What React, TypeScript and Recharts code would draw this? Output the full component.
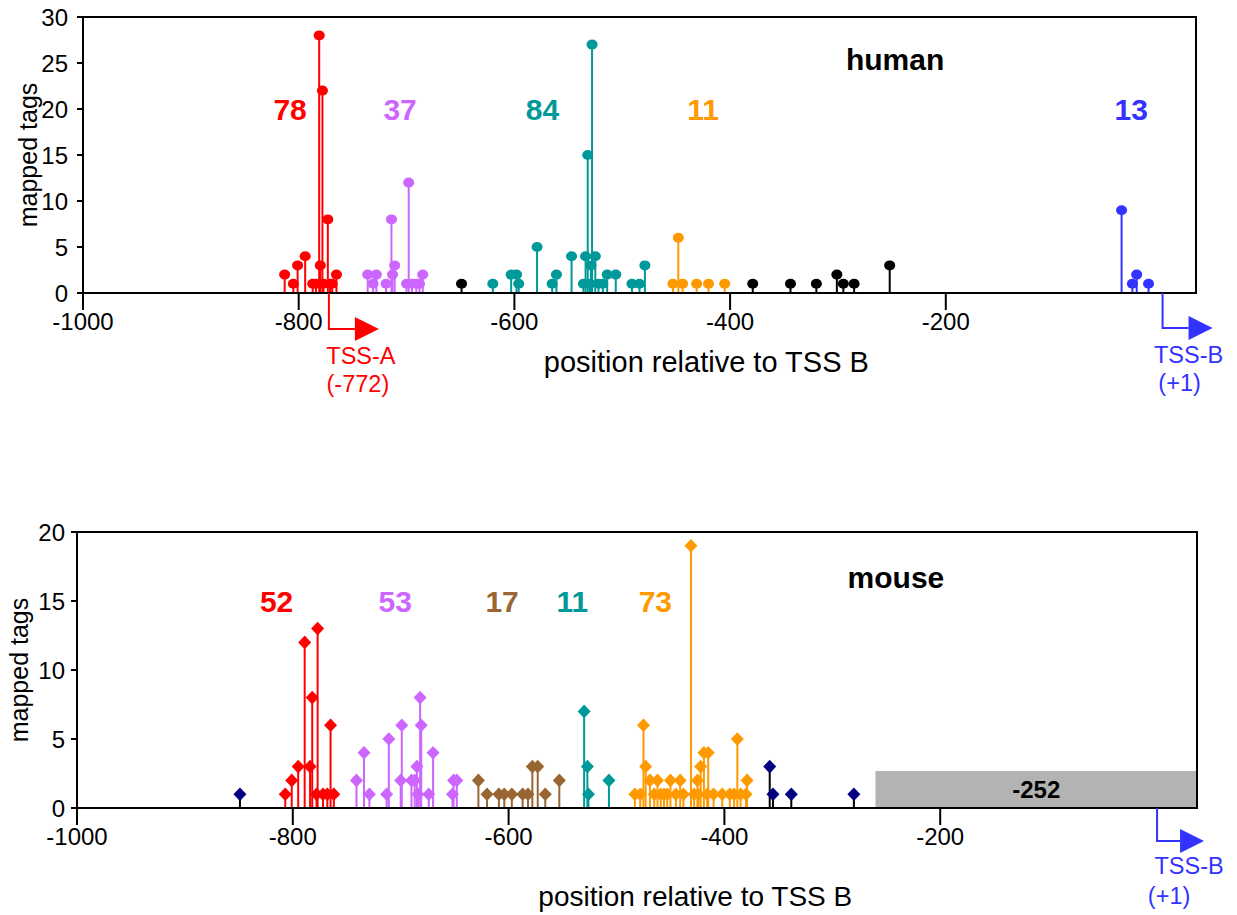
import React from 'react'
import { ScatterChart, Scatter, XAxis, YAxis, ErrorBar, ReferenceArea, ReferenceDot } from 'recharts'

// human, tags per position (relative to TSS B)
const humanRedPos = [-813, -805, -801, -794, -787, -784, -781, -780, -778, -777, -773, -771, -769, -765]
const humanRedTags = [2, 1, 3, 4, 1, 1, 28, 3, 22, 1, 8, 1, 1, 2]
const humanPurplePos = [-736, -731, -728, -719, -714, -713, -711, -700, -698, -695, -691, -688, -685]
const humanPurpleTags = [2, 1, 2, 1, 8, 2, 3, 1, 12, 1, 1, 1, 2]
const humanTealPos = [-620, -603, -598, -596, -579, -565, -561, -547, -536, -534, -532, -530, -529, -528, -525, -522, -518, -514, -506, -491, -484, -479]
const humanTealTags = [1, 2, 2, 1, 5, 1, 2, 4, 1, 4, 15, 1, 3, 27, 4, 1, 1, 2, 2, 1, 1, 3]
const humanOrangePos = [-453, -448, -444, -431, -420, -405]
const humanOrangeTags = [1, 6, 1, 1, 1, 1]
const humanBlackPos = [-649, -379, -344, -320, -301, -295, -285, -252]
const humanBlackTags = [1, 1, 1, 1, 2, 1, 1, 3]
const humanBluePos = [-37, -27, -23, -12]
const humanBlueTags = [9, 1, 2, 1]

// mouse
const mouseNavyPos = [-849, -358, -355, -338, -280]
const mouseNavyTags = [1, 3, 1, 1, 1]
const mouseRedPos = [-807, -801, -795, -789, -784, -782, -778, -777, -772, -768, -765, -762]
const mouseRedTags = [1, 2, 3, 12, 3, 8, 1, 13, 1, 1, 6, 1]
const mousePurplePos = [-741, -734, -729, -713, -711, -700, -699, -690, -687, -685, -684, -682, -681, -674, -670, -652, -651, -648]
const mousePurpleTags = [2, 4, 1, 1, 5, 2, 6, 2, 2, 3, 1, 8, 6, 1, 4, 1, 2, 2]
const mouseBrownPos = [-628, -620, -609, -604, -597, -587, -582, -578, -573, -566, -553]
const mouseBrownTags = [2, 1, 1, 1, 1, 1, 1, 3, 3, 1, 2]
const mouseTealPos = [-530, -527, -526, -507]
const mouseTealTags = [7, 3, 1, 2]
const mouseOrangePos = [-483, -478, -475, -473, -469, -465, -462, -459, -456, -453, -450, -445, -441, -438, -431, -428, -425, -424, -422, -419, -416, -415, -410, -402, -395, -391, -388, -385, -380, -379]
const mouseOrangeTags = [1, 1, 6, 3, 2, 1, 2, 1, 1, 1, 2, 1, 2, 1, 19, 1, 2, 1, 3, 4, 1, 4, 1, 1, 1, 1, 5, 1, 1, 2]

// cluster totals
const humanCounts = ['78', '37', '84', '11', '13']
const humanCountX = [-808, -706, -574, -425, -28]
const mouseCounts = ['52', '53', '17', '11', '73']
const mouseCountX = [-815, -705, -606, -541, -464]

const xTicks = [-1000, -800, -600, -400, -200]
const humanYTicks = [0, 5, 10, 15, 20, 25, 30]
const mouseYTicks = [0, 5, 10, 15, 20]

const RED = '#FF0000'
const PURPLE = '#CC66FF'
const TEAL = '#009999'
const ORANGE = '#FF9900'
const BLUE = '#3333FF'
const BROWN = '#996633'
const NAVY = '#000080'
const FONT = '"Liberation Sans", Arial, Helvetica, sans-serif'

const toPoints = (pos: number[], tags: number[]) =>
  pos.map((x, i) => ({ x, y: tags[i], err: [tags[i], 0] }))

const circle = (color: string) => (p: any) => (
  <ellipse cx={p.cx} cy={p.cy} rx={5.5} ry={5} fill={color} />
)
const diamond = (color: string) => (p: any) => (
  <polygon
    points={`${p.cx},${p.cy - 6.8} ${p.cx + 6.5},${p.cy} ${p.cx},${p.cy + 6.8} ${p.cx - 6.5},${p.cy}`}
    fill={color}
  />
)

const textShape = (text: string, color: string, size: number, bold = false, angle = 0) => (p: any) => (
  <text
    x={p.cx}
    y={p.cy}
    fill={color}
    fontSize={size}
    fontWeight={bold ? 'bold' : 'normal'}
    textAnchor="middle"
    dominantBaseline="central"
    transform={angle ? `rotate(${angle}, ${p.cx}, ${p.cy})` : undefined}
  >
    {text}
  </text>
)

type Line = { text: string; dx: number; dy: number }
const tssArrow = (color: string, drop: number, run: number, lines: Line[]) => (p: any) => {
  const { cx, cy } = p
  const ay = cy + drop
  return (
    <g>
      <polyline points={`${cx},${cy} ${cx},${ay} ${cx + run},${ay}`} fill="none" stroke={color} strokeWidth={2} />
      <polygon points={`${cx + run},${ay - 12} ${cx + run + 24},${ay} ${cx + run},${ay + 12}`} fill={color} />
      {lines.map((l) => (
        <text key={l.text} x={cx + l.dx} y={cy + l.dy} fill={color} fontSize={23.5} textAnchor="middle" dominantBaseline="central">
          {l.text}
        </text>
      ))}
    </g>
  )
}

function Stems({ data, color, stem, kind }: { data: any[]; color: string; stem?: string; kind: 'c' | 'd' }) {
  return (
    <Scatter data={data} isAnimationActive={false} shape={kind === 'c' ? circle(color) : diamond(color)}>
      <ErrorBar dataKey="err" direction="y" width={5} stroke={stem || color} strokeWidth={2} isAnimationActive={false} />
    </Scatter>
  )
}

const axisProps = {
  axisLine: { stroke: '#000', strokeWidth: 2 },
  tickLine: { stroke: '#000', strokeWidth: 2 },
  tick: { fill: '#000', fontSize: 24 },
}

function HumanChart() {
  const groups = [
    { pos: humanRedPos, tags: humanRedTags, color: RED },
    { pos: humanPurplePos, tags: humanPurpleTags, color: PURPLE },
    { pos: humanTealPos, tags: humanTealTags, color: TEAL },
    { pos: humanOrangePos, tags: humanOrangeTags, color: ORANGE },
    { pos: humanBlackPos, tags: humanBlackTags, color: '#000' },
    { pos: humanBluePos, tags: humanBlueTags, color: BLUE },
  ]
  const countColors = [RED, PURPLE, TEAL, ORANGE, BLUE]
  return (
    <ScatterChart width={1237} height={430} margin={{ top: 17, right: 41, bottom: 0, left: 0 }}>
      <XAxis
        type="number"
        dataKey="x"
        domain={[-1000, 32]}
        allowDataOverflow
        ticks={xTicks}
        height={137}
        tickSize={17}
        tickMargin={3}
        {...axisProps}
      />
      <YAxis type="number" dataKey="y" domain={[0, 30]} allowDataOverflow ticks={humanYTicks} width={83} tickSize={6} tickMargin={9} {...axisProps} />
      <ReferenceArea x1={-1000} x2={32} y1={0} y2={30} fill="none" stroke="#000" strokeWidth={2} />
      {groups.map((g, i) => (
        <Stems key={i} data={toPoints(g.pos, g.tags)} color={g.color} kind="c" />
      ))}
      {humanCounts.map((c, i) => (
        <ReferenceDot key={c + i} x={humanCountX[i]} y={20} r={0} ifOverflow="visible" shape={textShape(c, countColors[i], 30, true)} />
      ))}
      <ReferenceDot x={-247} y={25.4} r={0} ifOverflow="visible" shape={textShape('human', '#000', 30, true)} />
      <ReferenceDot x={-422} y={-7.5} r={0} ifOverflow="visible" shape={textShape('position relative to TSS B', '#000', 29)} />
      <ReferenceDot x={-1051} y={15} r={0} ifOverflow="visible" shape={textShape('mapped tags', '#000', 25, false, -90)} />
      <ReferenceDot
        x={-772}
        y={0}
        r={0}
        ifOverflow="visible"
        shape={tssArrow(RED, 36, 26, [
          { text: 'TSS-A', dx: 32, dy: 63 },
          { text: '(-772)', dx: 29, dy: 91 },
        ])}
      />
      <ReferenceDot
        x={1}
        y={0}
        r={0}
        ifOverflow="visible"
        shape={tssArrow(BLUE, 35, 26, [
          { text: 'TSS-B', dx: 26, dy: 62 },
          { text: '(+1)', dx: 17, dy: 90 },
        ])}
      />
    </ScatterChart>
  )
}

function MouseChart() {
  const groups = [
    { pos: mouseRedPos, tags: mouseRedTags, color: RED },
    { pos: mousePurplePos, tags: mousePurpleTags, color: PURPLE },
    { pos: mouseBrownPos, tags: mouseBrownTags, color: BROWN },
    { pos: mouseTealPos, tags: mouseTealTags, color: TEAL },
    { pos: mouseOrangePos, tags: mouseOrangeTags, color: ORANGE },
  ]
  const countColors = [RED, PURPLE, BROWN, TEAL, ORANGE]
  return (
    <ScatterChart width={1237} height={465} margin={{ top: 82, right: 40, bottom: 0, left: 0 }}>
      <XAxis
        type="number"
        dataKey="x"
        domain={[-1000, 38]}
        allowDataOverflow
        ticks={xTicks}
        height={107}
        tickSize={17}
        tickMargin={3}
        {...axisProps}
      />
      <YAxis type="number" dataKey="y" domain={[0, 20]} allowDataOverflow ticks={mouseYTicks} width={77} tickSize={6} tickMargin={6} {...axisProps} />
      <ReferenceArea
        x1={-260}
        x2={38}
        y1={0}
        y2={2.68}
        fill="#B3B3B3"
        fillOpacity={1}
        stroke="none"
        label={{ value: '-252', position: 'center', fill: '#000', fontSize: 24, fontWeight: 'bold' }}
      />
      <ReferenceArea x1={-1000} x2={38} y1={0} y2={20} fill="none" stroke="#000" strokeWidth={2} />
      {groups.map((g, i) => (
        <Stems key={i} data={toPoints(g.pos, g.tags)} color={g.color} kind="d" />
      ))}
      <Stems data={toPoints(mouseNavyPos, mouseNavyTags)} color={NAVY} stem="#000" kind="d" />
      {mouseCounts.map((c, i) => (
        <ReferenceDot key={c + i} x={mouseCountX[i]} y={15} r={0} ifOverflow="visible" shape={textShape(c, countColors[i], 30, true)} />
      ))}
      <ReferenceDot x={-241} y={16.7} r={0} ifOverflow="visible" shape={textShape('mouse', '#000', 30, true)} />
      <ReferenceDot x={-427} y={-6.4} r={0} ifOverflow="visible" shape={textShape('position relative to TSS B', '#000', 28)} />
      <ReferenceDot x={-1054} y={10} r={0} ifOverflow="visible" shape={textShape('mapped tags', '#000', 25, false, -90)} />
      <ReferenceDot
        x={1}
        y={0}
        r={0}
        ifOverflow="visible"
        shape={tssArrow(BLUE, 33, 23, [
          { text: 'TSS-B', dx: 32, dy: 58 },
          { text: '(+1)', dx: 12, dy: 88 },
        ])}
      />
    </ScatterChart>
  )
}

export default function App() {
  return (
    <div style={{ position: 'absolute', left: 0, top: 0, width: 1237, height: 915, background: '#fff', fontFamily: FONT }}>
      <div style={{ position: 'absolute', left: 0, top: 0 }}>
        <HumanChart />
      </div>
      <div style={{ position: 'absolute', left: 0, top: 450 }}>
        <MouseChart />
      </div>
    </div>
  )
}
